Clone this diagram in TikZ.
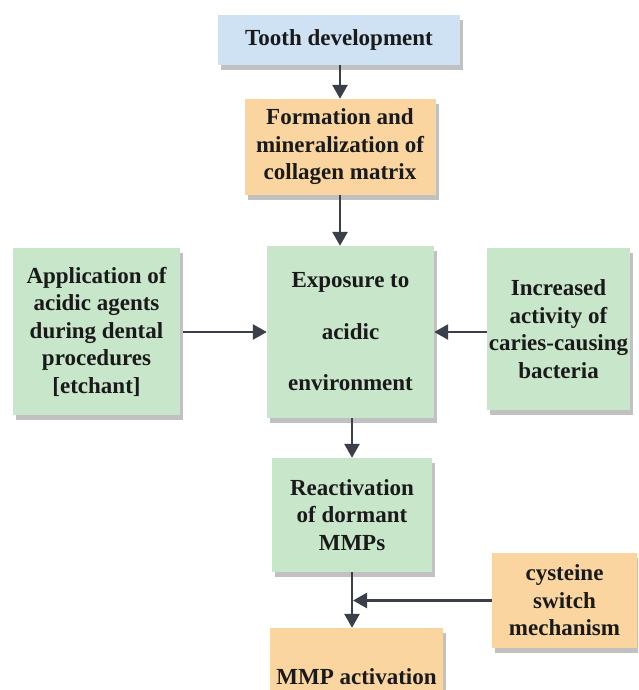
\documentclass[tikz,border=0pt]{standalone}
\usepackage{fontspec}
\setmainfont{Liberation Serif}
\usetikzlibrary{arrows.meta,shadows}
\definecolor{bluebox}{HTML}{CFE2F3}
\definecolor{orangebox}{HTML}{FAD5A0}
\definecolor{greenbox}{HTML}{C8E6C9}
\definecolor{arrowc}{HTML}{3B3F4A}
\definecolor{textc}{HTML}{1A1A1A}
\tikzset{
  box/.style={draw=none, align=center, inner sep=0pt, text=textc,
    font=\bfseries\fontsize{23}{27.5}\selectfont,
    drop shadow={shadow xshift=3pt, shadow yshift=-5pt, opacity=0.4, fill=black!60}},
  bluestyle/.style={box, fill=bluebox},
  orangestyle/.style={box, fill=orangebox},
  greenstyle/.style={box, fill=greenbox},
  conn/.style={draw=arrowc, line width=2.6pt, -{Triangle[length=14pt,width=15pt]}}
}
\begin{document}
\begin{tikzpicture}[x=1pt,y=1pt]
\clip (0,0) rectangle (638,-690);
\fill[white] (0,0) rectangle (638,-690);
\node[bluestyle, minimum width=242pt, minimum height=50pt] (tooth) at (339,-40) {Tooth development};
\node[orangestyle, minimum width=191pt, minimum height=96pt] (form) at (340,-147) {Formation and\\mineralization of\\collagen matrix};
\node[greenstyle, minimum width=167pt, minimum height=172pt] (expo) at (350.5,-332) {Exposure to\\[24pt]acidic\\[24pt]environment};
\node[greenstyle, minimum width=167pt, minimum height=167pt] (left) at (96.5,-331.5) {Application of\\acidic agents\\during dental\\procedures\\{[}etchant{]}};
\node[greenstyle, minimum width=143pt, minimum height=162pt] (right) at (558.5,-329) {Increased\\activity of\\caries-causing\\bacteria};
\node[greenstyle, minimum width=160pt, minimum height=114pt] (react) at (352,-515) {Reactivation\\of dormant\\MMPs};
\node[orangestyle, minimum width=145pt, minimum height=95pt] (cyst) at (564.5,-600.5) {cysteine\\switch\\mechanism};
\node[orangestyle, minimum width=173pt, minimum height=90pt, text depth=0pt] (mmp) at (356.5,-673) {\raisebox{-8pt}{MMP activation}};
\draw[conn] (form.north |- tooth.south) -- (form.north);
\draw[conn] (form.south) -- (form.south |- expo.north);
\draw[conn] ([xshift=3pt]left.east |- expo.west) -- (expo.west);
\draw[conn] (right.west |- expo.east) -- (expo.east);
\draw[conn] (expo.south -| react.north) -- (react.north);
\draw[conn] (react.south) -- (react.south |- mmp.north);
\coordinate (join) at (react.south |- cyst.west);
\draw[conn] (cyst.west) -- ([xshift=1pt]join);
\end{tikzpicture}
\end{document}
